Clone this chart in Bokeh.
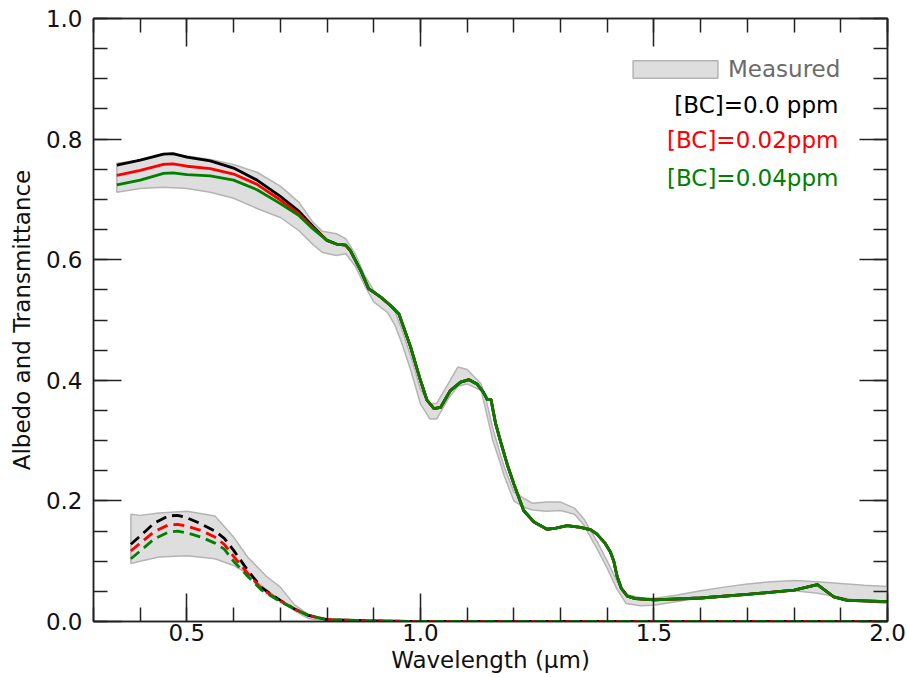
import numpy as np
from bokeh.plotting import figure
from bokeh.models import (Range1d, LinearAxis, SingleIntervalTicker, Legend, LegendItem,
                          Label, PrintfTickFormatter, CustomJSTickFormatter)
from bokeh.embed import file_html
from bokeh.resources import INLINE

# ---------------- data ----------------
# measured albedo band
meas_x = [0.35, 0.40, 0.45, 0.50, 0.55, 0.60, 0.65, 0.70, 0.74, 0.77, 0.79, 0.82, 0.84, 0.86,
          0.88, 0.90, 0.93, 0.945, 0.96, 0.98, 1.00, 1.02, 1.035, 1.06, 1.08, 1.10, 1.13, 1.14,
          1.155, 1.17, 1.18, 1.20, 1.22, 1.24, 1.27, 1.30, 1.33, 1.35, 1.38, 1.40, 1.42, 1.44,
          1.47, 1.50, 1.55, 1.60, 1.65, 1.70, 1.75, 1.80, 1.85, 1.90, 1.95, 2.00]
meas_hi = [0.760, 0.765, 0.776, 0.772, 0.766, 0.758, 0.745, 0.722, 0.695, 0.662, 0.647, 0.643,
           0.635, 0.610, 0.575, 0.549, 0.527, 0.515, 0.485, 0.438, 0.385, 0.361, 0.362, 0.395,
           0.422, 0.418, 0.394, 0.370, 0.320, 0.280, 0.255, 0.215, 0.205, 0.196, 0.198, 0.198,
           0.188, 0.170, 0.130, 0.100, 0.068, 0.045, 0.040, 0.038, 0.044, 0.051, 0.057, 0.062,
           0.066, 0.068, 0.066, 0.063, 0.060, 0.058]
meas_lo = [0.712, 0.718, 0.720, 0.718, 0.712, 0.702, 0.685, 0.670, 0.648, 0.625, 0.612, 0.607,
           0.610, 0.590, 0.558, 0.530, 0.512, 0.492, 0.462, 0.415, 0.361, 0.336, 0.336, 0.370,
           0.390, 0.394, 0.383, 0.350, 0.300, 0.265, 0.240, 0.200, 0.190, 0.185, 0.183, 0.184,
           0.178, 0.160, 0.118, 0.088, 0.055, 0.030, 0.026, 0.027, 0.033, 0.039, 0.043, 0.046,
           0.049, 0.051, 0.047, 0.040, 0.033, 0.030]

# measured transmittance band
tmeas_x = [0.38, 0.40, 0.44, 0.50, 0.56, 0.60, 0.63, 0.67, 0.70, 0.73, 0.76, 0.80]
tmeas_hi = [0.178, 0.176, 0.180, 0.183, 0.175, 0.140, 0.107, 0.075, 0.057, 0.028, 0.012, 0.002]
tmeas_lo = [0.096, 0.100, 0.107, 0.109, 0.104, 0.093, 0.079, 0.053, 0.035, 0.018, 0.005, 0.000]

# modelled albedo
alb_x = [0.35, 0.40, 0.45, 0.47, 0.50, 0.55, 0.60, 0.65, 0.70, 0.74, 0.77,
         0.80, 0.82, 0.84, 0.85, 0.872, 0.889, 0.915, 0.936, 0.954, 0.979, 1.000, 1.014, 1.029,
         1.043, 1.064, 1.086, 1.104, 1.121, 1.135, 1.143, 1.151, 1.161, 1.171, 1.186, 1.200,
         1.221, 1.243, 1.271, 1.29, 1.314, 1.343, 1.365, 1.378, 1.395, 1.407, 1.414, 1.421,
         1.43, 1.443, 1.46, 1.50, 1.60, 1.70, 1.80, 1.85, 1.885, 1.914, 2.00]
alb_common = [0.632, 0.626, 0.624, 0.615, 0.582, 0.552, 0.538, 0.524, 0.510, 0.455, 0.400,
              0.367, 0.353, 0.355, 0.383, 0.397, 0.401, 0.394, 0.380, 0.368, 0.368, 0.328,
              0.300, 0.260, 0.228, 0.184, 0.165, 0.153, 0.155, 0.159, 0.156, 0.152, 0.145,
              0.130, 0.115, 0.100, 0.075, 0.055, 0.042, 0.038, 0.036, 0.039, 0.045, 0.052,
              0.061, 0.041, 0.035, 0.033]
alb_bc00 = [0.757, 0.765, 0.775, 0.776, 0.770, 0.764, 0.752, 0.732, 0.705, 0.680, 0.655] + alb_common
alb_bc02 = [0.740, 0.748, 0.758, 0.759, 0.755, 0.751, 0.742, 0.725, 0.699, 0.676, 0.653] + alb_common
alb_bc04 = [0.724, 0.732, 0.743, 0.744, 0.741, 0.739, 0.732, 0.716, 0.693, 0.673, 0.651] + alb_common

# modelled transmittance
tr_x = [0.38, 0.40, 0.43, 0.46, 0.48, 0.50, 0.53, 0.56, 0.58, 0.60, 0.63, 0.66, 0.70, 0.73,
        0.76, 0.80, 0.90, 1.00, 1.50, 2.00]
tr_common = [0.021, 0.010, 0.003, 0.001, 0.0, 0.0, 0.0]
tr_bc00 = [0.128, 0.142, 0.163, 0.175, 0.176, 0.172, 0.162, 0.150, 0.138, 0.118, 0.085, 0.056, 0.035] + tr_common
tr_bc02 = [0.117, 0.130, 0.149, 0.160, 0.161, 0.158, 0.151, 0.140, 0.128, 0.108, 0.080, 0.054, 0.034] + tr_common
tr_bc04 = [0.104, 0.117, 0.137, 0.148, 0.150, 0.147, 0.140, 0.130, 0.120, 0.100, 0.075, 0.052, 0.033] + tr_common

series_labels = ["[BC]=0.0 ppm", "[BC]=0.02ppm", "[BC]=0.04ppm"]
series_colors = ["#000000", "#ff0000", "#008000"]

# ---------------- figure ----------------
FONT = "DejaVu Sans"
FS = "23px"

p = figure(width=907, height=677, output_backend="svg", toolbar_location=None,
           x_range=Range1d(0.3, 2.0), y_range=Range1d(0.0, 1.0),
           x_axis_location=None, y_axis_location=None,
           min_border_left=93, min_border_right=20, min_border_top=18, min_border_bottom=56)
p.xgrid.visible = False
p.ygrid.visible = False
p.outline_line_color = "#222222"
p.outline_line_width = 1.5
p.background_fill_color = "white"
p.border_fill_color = "white"

fill_c = "#dedede"
edge_c = "#b4b4b4"

band = p.patch(meas_x + meas_x[::-1], meas_hi + meas_lo[::-1],
               fill_color=fill_c, line_color=edge_c, line_width=1.5)
p.patch(tmeas_x + tmeas_x[::-1], tmeas_hi + tmeas_lo[::-1],
        fill_color=fill_c, line_color=edge_c, line_width=1.5)

for ys, c in zip([alb_bc00, alb_bc02, alb_bc04], series_colors):
    p.line(alb_x, ys, line_color=c, line_width=2.8, line_join="round")
for ys, c in zip([tr_bc00, tr_bc02, tr_bc04], series_colors):
    p.line(tr_x, ys, line_color=c, line_width=2.8, line_dash="11 6")


def make_axis(ticker_interval, minor, show_labels, label=None):
    ax = LinearAxis(ticker=SingleIntervalTicker(interval=ticker_interval, num_minor_ticks=minor))
    ax.major_tick_in = 28
    ax.major_tick_out = 0
    ax.minor_tick_in = 14
    ax.minor_tick_out = 0
    ax.axis_line_color = "#222222"
    ax.axis_line_width = 1.5
    ax.major_tick_line_color = "#222222"
    ax.major_tick_line_width = 1.5
    ax.minor_tick_line_color = "#222222"
    ax.minor_tick_line_width = 1.5
    if show_labels:
        ax.formatter = PrintfTickFormatter(format="%.1f")
        ax.major_label_text_font = FONT
        ax.major_label_text_font_size = FS
        ax.major_label_text_color = "#111111"
        if label:
            ax.axis_label = label
            ax.axis_label_text_font = FONT
            ax.axis_label_text_font_size = FS
            ax.axis_label_text_font_style = "normal"
            ax.axis_label_text_color = "#111111"
    else:
        ax.formatter = CustomJSTickFormatter(code="return ''")
        ax.major_label_standoff = 0
    return ax


xb = make_axis(0.5, 5, True, "Wavelength (\u03bcm)")
xb.major_label_standoff = 2
xb.axis_label_standoff = 3
yl = make_axis(0.2, 4, True, "Albedo and Transmittance")
yl.major_label_standoff = 11
yl.axis_label_standoff = 8
xt = make_axis(0.5, 5, False)
yr = make_axis(0.2, 4, False)
p.add_layout(xb, "below")
p.add_layout(yl, "left")
p.add_layout(xt, "above")
p.add_layout(yr, "right")

legend = Legend(items=[LegendItem(label="Measured", renderers=[band])],
                location=(529, 539), padding=0, margin=0, spacing=0,
                glyph_width=106, glyph_height=22, label_standoff=0,
                label_text_font=FONT, label_text_font_size=FS, label_text_color="#6b6b6b",
                border_line_alpha=0, background_fill_alpha=0)
p.add_layout(legend)

label_y = [0.857, 0.798, 0.736]
for txt, c, yy in zip(series_labels, series_colors, label_y):
    p.add_layout(Label(x=1.895, y=yy, text=txt, text_color=c, text_font=FONT,
                       text_font_size=FS, text_align="right", text_baseline="middle"))

open("out.html", "w").write(file_html(p, INLINE))
